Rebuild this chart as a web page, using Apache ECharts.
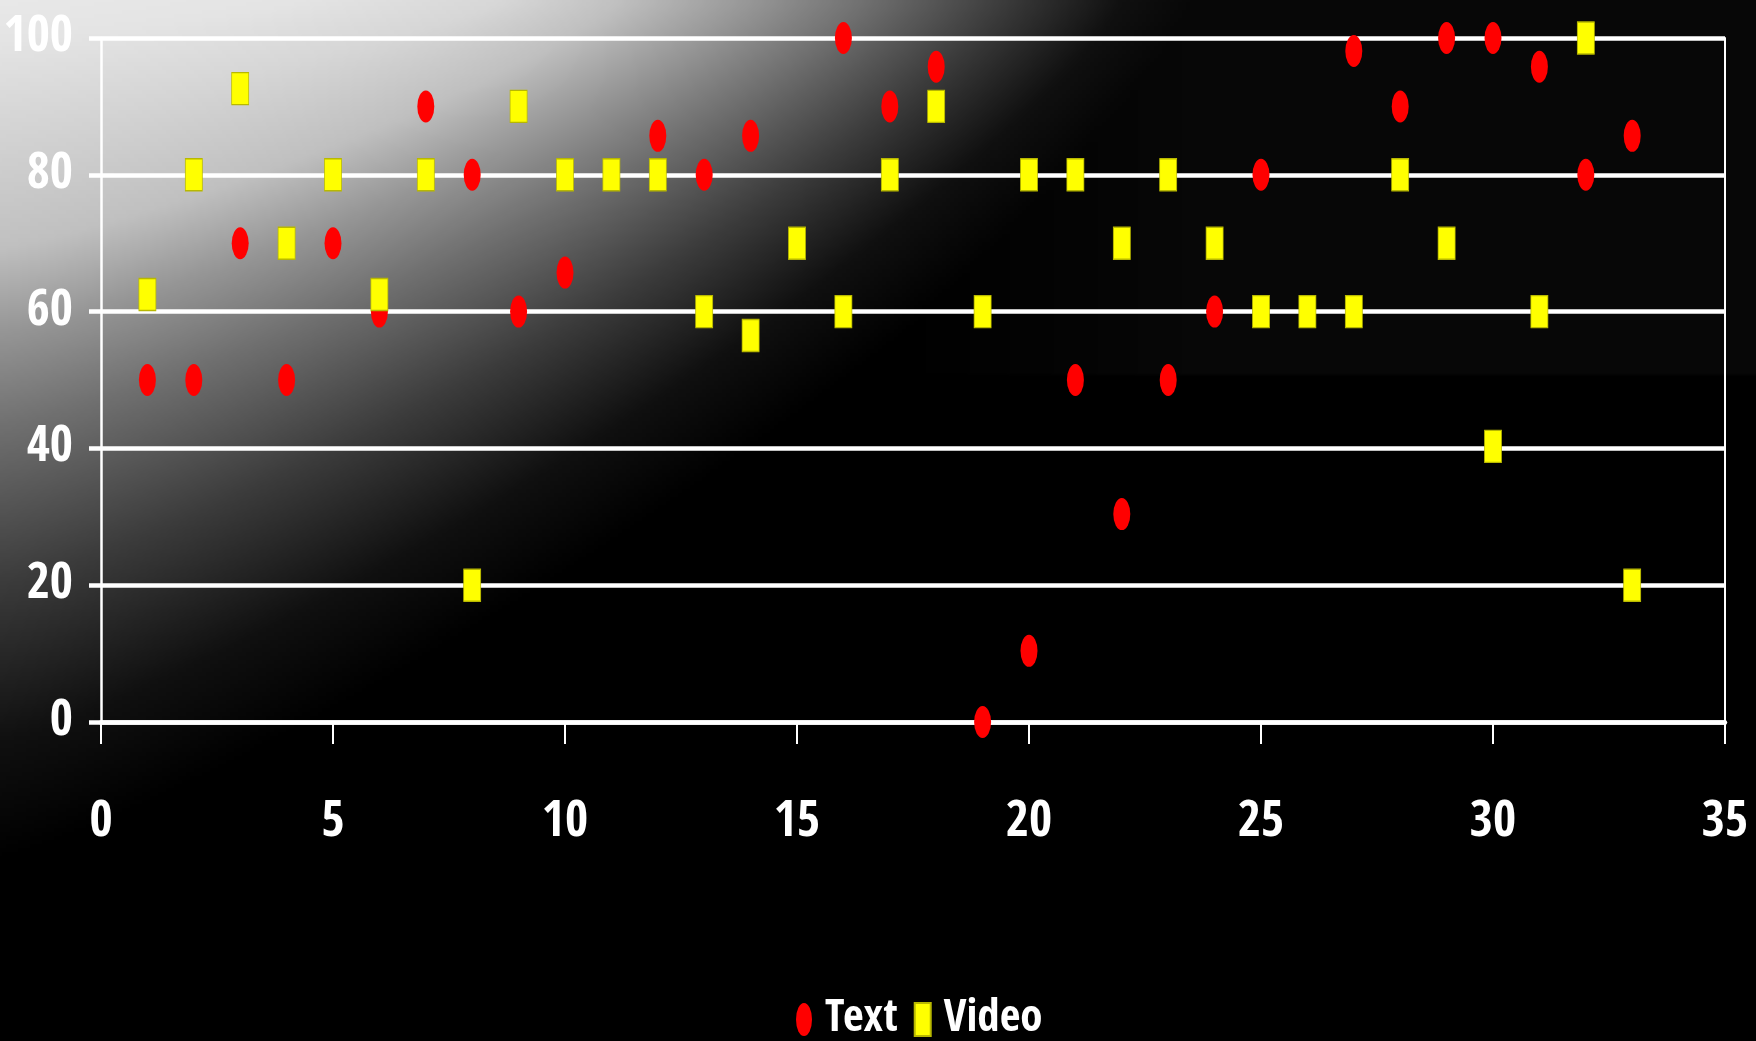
<!DOCTYPE html>
<html>
<head>
<meta charset="utf-8">
<style>
  html, body { margin: 0; padding: 0; background: #000; }
  #chart { width: 1756px; height: 1041px; }
</style>
<script src="https://cdn.jsdelivr.net/npm/echarts@6/dist/echarts.min.js"></script>
</head>
<body>
<div id="chart"></div>
<script>
// ---- data ----
const seriesNames = ['Text', 'Video'];
const textX = [1, 2, 3, 4, 5, 6, 7, 8, 9, 10, 12, 13, 14, 16, 17, 18, 19, 20, 21, 22, 23, 24, 25, 27, 28, 29, 30, 31, 32, 33];
const textY = [50, 50, 70, 50, 70, 60, 90, 80, 60, 65.7, 85.7, 80, 85.7, 100, 90, 95.8, 0, 10.4, 50, 30.4, 50, 60, 80, 98.1, 90, 100, 100, 95.8, 80, 85.7];
const videoX = [1, 2, 3, 4, 5, 6, 7, 8, 9, 10, 11, 12, 13, 14, 15, 16, 17, 18, 19, 20, 21, 22, 23, 24, 25, 26, 27, 28, 29, 30, 31, 32, 33];
const videoY = [62.5, 80, 92.6, 70, 80, 62.5, 80, 20, 90, 80, 80, 80, 60, 56.5, 70, 60, 80, 90, 60, 80, 80, 70, 80, 70, 60, 60, 60, 80, 70, 40.3, 60, 100, 20];
const xTicks = [0, 5, 10, 15, 20, 25, 30, 35];
const yTicks = [0, 20, 40, 60, 80, 100];

const W = 1756, H = 1041;
const FONT = '"Open Sans Condensed", "Open Sans", "Liberation Sans", sans-serif';
const pairs = (xs, ys) => xs.map((x, i) => [x, ys[i]]);

// ---- decorative background: corner glow fading to black ----
function makeBackground() {
  const bri = [232, 228, 215, 192, 150, 112, 60, 16, 0];
  const A = [1, 300, 500, 616, 750, 862, 1000, 1120, 1250];
  const B = [1, 40, 110, 246, 330, 425, 580, 740, 860];
  const P = 1.2, N = bri.length - 1;
  const lerp = (arr, s) => {
    const i = Math.min(Math.floor(s), N - 1), f = s - i;
    return arr[i] + (arr[i + 1] - arr[i]) * f;
  };
  const sc = 4;
  const cw = Math.ceil(W / sc) + 1, ch = Math.ceil(H / sc) + 1;
  const cv = document.createElement('canvas');
  cv.width = cw; cv.height = ch;
  const ctx = cv.getContext('2d');
  const img = ctx.createImageData(cw, ch);
  for (let j = 0; j < ch; j++) {
    for (let i = 0; i < cw; i++) {
      const x = i * sc, y = j * sc;
      const f = s => Math.pow(x / lerp(A, s), P) + Math.pow(y / lerp(B, s), P);
      let v;
      if (f(N) > 1) { v = 0; }
      else {
        let lo = 0, hi = N;
        for (let k = 0; k < 18; k++) {
          const m = (lo + hi) / 2;
          if (f(m) > 1) lo = m; else hi = m;
        }
        v = lerp(bri, hi);
      }
      // faint lighter band in the upper right
      if (y < 373 && x > 900) v = Math.max(v, Math.min(1, (x - 900) / 300) * 7);
      const o = (j * cw + i) * 4;
      img.data[o] = img.data[o + 1] = img.data[o + 2] = Math.round(v);
      img.data[o + 3] = 255;
    }
  }
  ctx.putImageData(img, 0, 0);
  return cv;
}

const chart = echarts.init(document.getElementById('chart'), null, { renderer: 'canvas' });

const option = {
  backgroundColor: '#000000',
  animation: false,
  graphic: [
    {
      type: 'image', silent: true, z: -20,
      style: { image: makeBackground(), x: 0, y: 0, width: W + 4, height: H + 4 }
    }
  ],
  grid: { left: 101, right: 31, top: 38, bottom: 319, containLabel: false, outerBoundsMode: 'none' },
  legend: {
    data: [
      { name: seriesNames[0], icon: 'path://M8,0 A8,16 0 1,1 8,32 A8,16 0 1,1 8,0 Z' },
      { name: seriesNames[1], icon: 'rect' }
    ],
    left: 791, top: 992,
    itemWidth: 16, itemHeight: 33, itemGap: 16,
    symbolKeepAspect: false,
    textStyle: { color: '#ffffff', fontFamily: FONT, fontWeight: 'bold', fontSize: 45, padding: [0, 0, 0, 8] }
  },
  xAxis: {
    type: 'value', min: xTicks[0], max: xTicks[xTicks.length - 1], interval: 5,
    axisLine: { show: true, onZero: false, lineStyle: { color: '#ffffff', width: 4.5 } },
    axisTick: { show: true, length: 22, lineStyle: { color: '#ffffff', width: 2 } },
    splitLine: { show: false },
    axisLabel: { color: '#ffffff', fontFamily: FONT, fontWeight: 'bold', fontSize: 50, margin: 76 }
  },
  yAxis: [
    {
      type: 'value', min: yTicks[0], max: yTicks[yTicks.length - 1], interval: 20,
      axisLine: { show: true, lineStyle: { color: '#ffffff', width: 2.5 } },
      axisTick: { show: true, length: 12, lineStyle: { color: '#ffffff', width: 4.5 } },
      splitLine: { show: true, lineStyle: { color: '#ffffff', width: 4.5 } },
      axisLabel: { color: '#ffffff', fontFamily: FONT, fontWeight: 'bold', fontSize: 50, margin: 28 }
    },
    {
      type: 'value', position: 'right', min: 0, max: 100, interval: 20,
      axisLine: { show: true, lineStyle: { color: '#ffffff', width: 2 } },
      axisTick: { show: false }, axisLabel: { show: false }, splitLine: { show: false }
    }
  ],
  series: [
    {
      name: seriesNames[0], type: 'scatter', clip: false,
      symbol: 'circle', symbolSize: [17, 32],
      itemStyle: { color: '#ff0000', opacity: 1 },
      data: pairs(textX, textY), z: 3
    },
    {
      name: seriesNames[1], type: 'scatter', clip: false,
      symbol: 'rect', symbolSize: [17, 32],
      itemStyle: { color: '#ffff00', borderColor: '#b8b800', borderWidth: 1, opacity: 1 },
      data: pairs(videoX, videoY), z: 4
    }
  ]
};
chart.setOption(option);
</script>
</body>
</html>
